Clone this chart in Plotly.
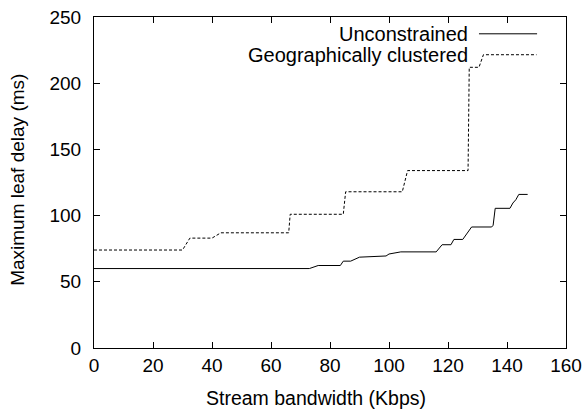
import plotly.graph_objects as go

# Unconstrained (solid)
unc_x = [0, 73, 76, 83.5, 84.5, 87, 90, 99, 100, 104, 116, 118, 121, 122, 125, 128, 134.8, 135.3, 136, 141, 142, 143, 144, 147]
unc_y = [60, 60, 62.3, 62.3, 65.6, 65.6, 68.6, 69.5, 71, 72.6, 72.6, 78, 78, 82, 82, 91.4, 91.4, 92.7, 105.5, 105.5, 109.5, 112, 116, 116]

# Geographically clustered (dashed)
geo_x = [0, 30, 32.5, 40, 43, 66, 66.5, 84.5, 85.3, 104.5, 106.3, 126.8, 127.2, 130.5, 132, 150]
geo_y = [74, 74, 83, 83, 87, 87, 101, 101, 118, 118, 134, 134, 212, 212, 221.5, 221.5]

names = ["Unconstrained", "Geographically clustered"]
x_ticks = [0, 20, 40, 60, 80, 100, 120, 140, 160]
y_ticks = [0, 50, 100, 150, 200, 250]
x_title = "Stream bandwidth (Kbps)"
y_title = "Maximum leaf delay (ms)"

FONT = "Liberation Sans, Arial, sans-serif"

fig = go.Figure()
fig.add_trace(go.Scatter(x=unc_x, y=unc_y, mode="lines", name=names[0],
                         line=dict(color="black", width=1), showlegend=False))
fig.add_trace(go.Scatter(x=geo_x, y=geo_y, mode="lines", name=names[1],
                         line=dict(color="black", width=1, dash="3px,2px"), showlegend=False))

# legend (gnuplot style: text right-aligned, sample to the right)
leg_y = [237.3, 221.5]
for nm, ly in zip(names, leg_y):
    fig.add_annotation(x=127.3, y=ly, xref="x", yref="y", text=nm, showarrow=False,
                       xanchor="right", yanchor="middle",
                       font=dict(family=FONT, size=20, color="black"))
# solid sample; the dashed sample coincides with the clustered curve's top level
fig.add_shape(type="line", x0=130.5, x1=150.2, y0=leg_y[0], y1=leg_y[0], xref="x", yref="y",
              line=dict(color="black", width=1))

# axis titles (placed like the gnuplot original)
fig.add_annotation(x=75.3, y=0, xref="x", yref="paper", yshift=-50, text=x_title,
                   showarrow=False, xanchor="center", yanchor="middle",
                   font=dict(family=FONT, size=19.5, color="black"))
fig.add_annotation(x=0, y=127, xref="paper", yref="y", xshift=-76, text=y_title,
                   textangle=-90, showarrow=False, xanchor="center", yanchor="middle",
                   font=dict(family=FONT, size=19, color="black"))

axis_common = dict(showline=True, linecolor="black", linewidth=1, mirror="allticks",
                   ticks="inside", ticklen=6, tickcolor="black", showgrid=False,
                   zeroline=False, automargin=False, ticklabeloverflow="allow",
                   tickfont=dict(family=FONT, size=19, color="black"))

fig.update_xaxes(range=[0, 160], tickvals=x_ticks, ticktext=[str(v) for v in x_ticks],
                 **axis_common)
fig.update_yaxes(range=[0, 250], tickvals=y_ticks, ticktext=[str(v) for v in y_ticks],
                 ticklabelstandoff=8, **axis_common)

fig.update_layout(width=582, height=415, margin=dict(l=94, r=16, t=17, b=67),
                  plot_bgcolor="white", paper_bgcolor="white",
                  font=dict(family=FONT, size=19, color="black"))

# remove the page's default body margin so the figure fills the window exactly
fig.write_html("out.html",
               config={"displayModeBar": False},
               post_script="document.body.style.margin='0';"
                           "document.documentElement.style.overflow='hidden';"
                           "document.body.style.overflow='hidden';")
